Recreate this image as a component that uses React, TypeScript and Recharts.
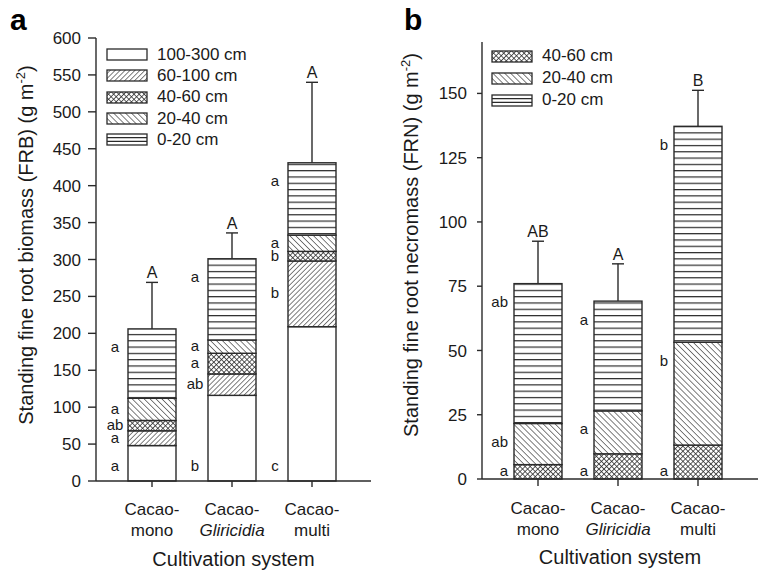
import React from 'react'
import { BarChart, Bar, XAxis, YAxis, Legend } from 'recharts'

const systems = ['Cacao-mono', 'Cacao-Gliricidia', 'Cacao-multi']
const tickTop = ['Cacao-', 'Cacao-', 'Cacao-']
const tickBottom = ['mono', 'Gliricidia', 'multi']

// panel a: standing fine root biomass per depth layer (g m-2)
const frb100to300 = [48, 116, 209]
const frb60to100 = [20, 29, 89]
const frb40to60 = [14, 28, 13]
const frb20to40 = [30, 18, 22]
const frb0to20 = [94, 110, 98]
const frbSe = [63, 35, 109]
const frbGroup = ['A', 'A', 'A']
const frbSig100to300 = ['a', 'b', 'c']
const frbSig60to100 = ['a', 'ab', 'b']
const frbSig40to60 = ['ab', 'a', 'b']
const frbSig20to40 = ['a', 'a', 'a']
const frbSig0to20 = ['a', 'a', 'a']
const frbTicks = [0, 50, 100, 150, 200, 250, 300, 350, 400, 450, 500, 550, 600]

// panel b: standing fine root necromass per depth layer (g m-2)
const frn40to60 = [5.6, 9.8, 13.2]
const frn20to40 = [16, 16.7, 40]
const frn0to20 = [54.4, 42.7, 84]
const frnSe = [16.5, 14.5, 14]
const frnGroup = ['AB', 'A', 'B']
const frnSig40to60 = ['a', 'a', 'a']
const frnSig20to40 = ['ab', 'a', 'b']
const frnSig0to20 = ['ab', 'a', 'b']
const frnTicks = [0, 25, 50, 75, 100, 125, 150]

const frbLegend = ['100-300 cm', '60-100 cm', '40-60 cm', '20-40 cm', '0-20 cm']
const frnLegend = ['40-60 cm', '20-40 cm', '0-20 cm']

const frbData = systems.map((s, i) => ({
  system: s,
  d100: frb100to300[i], d60: frb60to100[i], d40: frb40to60[i], d20: frb20to40[i], d0: frb0to20[i],
}))
const frnData = systems.map((s, i) => ({
  system: s, d40: frn40to60[i], d20: frn20to40[i], d0: frn0to20[i],
}))

const INK = '#2a2a2a'
const TXT = '#1a1a1a'
const FONT = '"Liberation Sans", Arial, Helvetica, sans-serif'

function Patterns({ id }: { id: string }) {
  return (
    <defs>
      <pattern id={`${id}-fwd`} patternUnits="userSpaceOnUse" width={3.5} height={10} patternTransform="rotate(45)">
        <rect width={3.5} height={10} fill="#fff" />
        <line x1={0} y1={0} x2={0} y2={10} stroke={INK} strokeWidth={1.2} />
      </pattern>
      <pattern id={`${id}-back`} patternUnits="userSpaceOnUse" width={4.2} height={10} patternTransform="rotate(-45)">
        <rect width={4.2} height={10} fill="#fff" />
        <line x1={0} y1={0} x2={0} y2={10} stroke={INK} strokeWidth={1.2} />
      </pattern>
      <pattern id={`${id}-cross`} patternUnits="userSpaceOnUse" width={3.6} height={3.6} patternTransform="rotate(45)">
        <rect width={3.6} height={3.6} fill="#fff" />
        <line x1={0} y1={0} x2={0} y2={3.6} stroke={INK} strokeWidth={1.5} />
        <line x1={0} y1={0} x2={3.6} y2={0} stroke={INK} strokeWidth={1.5} />
      </pattern>
      <pattern id={`${id}-horiz`} patternUnits="userSpaceOnUse" width={10} height={6.3}>
        <rect width={10} height={6.3} fill="#fff" />
        <line x1={0} y1={0.6} x2={10} y2={0.6} stroke={INK} strokeWidth={1.2} />
      </pattern>
    </defs>
  )
}

type Role = 'base' | 'mid' | 'top'

function segmentShape(
  fill: string, vals: number[], sig: string[], role: Role, panel: 'a' | 'b',
  se?: number[], group?: string[],
) {
  return (p: any) => {
    const { x, y, width, height, index } = p
    const cx = x + width / 2
    let ly = y + height / 2
    if (role === 'base') ly = y + height - (panel === 'a' ? 15 : 8)
    if (role === 'top') ly = Math.min(y + height / 2, y + 19)
    const lx = panel === 'a' ? x - 13 : x - 6
    const errPx = se ? (se[index] * height) / vals[index] : 0
    return (
      <g>
        <rect x={x} y={y} width={width} height={height} fill={fill} stroke={INK} strokeWidth={1.4} />
        {se && (
          <g stroke={INK} strokeWidth={1.4}>
            <line x1={cx} y1={y} x2={cx} y2={y - errPx} />
            <line x1={cx - 6} y1={y - errPx} x2={cx + 6} y2={y - errPx} />
          </g>
        )}
        {group && (
          <text x={cx} y={y - errPx - 4} textAnchor="middle" fontSize={16} fill={TXT} fontFamily={FONT}>
            {group[index]}
          </text>
        )}
        <text x={lx} y={ly} dy="0.3em" textAnchor={panel === 'a' ? 'middle' : 'end'}
          fontSize={15} fill={TXT} fontFamily={FONT}>
          {sig[index]}
        </text>
      </g>
    )
  }
}

const SystemTick = (p: any) => {
  const { x, y, payload } = p
  const i = systems.indexOf(payload.value)
  return (
    <g fontFamily={FONT} fontSize={17} fill={TXT}>
      <text x={x} y={y + 26} textAnchor="middle">{tickTop[i]}</text>
      <text x={x} y={y + 47} textAnchor="middle" fontStyle={i === 1 ? 'italic' : 'normal'}>{tickBottom[i]}</text>
    </g>
  )
}

const YTitle = ({ px, py, text }: any) => (
  <text x={px} y={py} transform={`rotate(-90 ${px} ${py})`} textAnchor="middle"
    fontFamily={FONT} fontSize={20} fill={TXT}>
    {text} (g m<tspan dy={-8} fontSize={13}>-2</tspan><tspan dy={8}>)</tspan>
  </text>
)

const XTitle = ({ viewBox }: any) => (
  <text x={viewBox.x + viewBox.width / 2} y={viewBox.y + 85} textAnchor="middle"
    fontFamily={FONT} fontSize={20} fill={TXT}>
    Cultivation system
  </text>
)

function legendContent(labels: string[], fills: string[], rowH: number) {
  return () => (
    <div style={{ fontFamily: FONT, fontSize: 17, color: TXT }}>
      {labels.map((l, i) => (
        <div key={l} style={{ display: 'flex', alignItems: 'center', height: rowH }}>
          <svg width={42} height={13} style={{ marginRight: 9 }}>
            <rect x={1} y={1} width={40} height={11} fill={fills[i] === 'horiz' ? '#fff' : fills[i]}
              stroke={INK} strokeWidth={1.3} />
            {fills[i] === 'horiz' && (
              <g stroke={INK} strokeWidth={1.2}>
                <line x1={1} y1={4.7} x2={41} y2={4.7} />
                <line x1={1} y1={8.4} x2={41} y2={8.4} />
              </g>
            )}
          </svg>
          <span>{l}</span>
        </div>
      ))}
    </div>
  )
}

const tickStyle = { fontSize: 17, fill: TXT, fontFamily: FONT }

export default function App() {
  return (
    <div style={{ position: 'absolute', left: 0, top: 0, width: 760, height: 573, background: '#fff' }}>
      <div style={{ position: 'absolute', left: 10, top: 3, lineHeight: '34px', fontFamily: FONT, fontWeight: 'bold', fontSize: 30, color: '#000' }}>a</div>
      <div style={{ position: 'absolute', left: 404, top: 3, lineHeight: '34px', fontFamily: FONT, fontWeight: 'bold', fontSize: 30, color: '#000' }}>b</div>

      <div style={{ position: 'absolute', left: 0, top: 0 }}>
        <BarChart width={380} height={573} data={frbData} barSize={48}
          margin={{ top: 38, right: 9, left: 36, bottom: 3 }}>
          <Patterns id="pa" />
          <XAxis dataKey="system" height={89} padding={{ left: 16, right: 19 }} tick={<SystemTick />}
            tickSize={6} stroke={INK} strokeWidth={1.4} interval={0} label={<XTitle />} />
          <XAxis xAxisId="top" dataKey="system" orientation="top" height={0} tick={false} tickLine={false}
            stroke={INK} strokeWidth={1.4} />
          <YAxis domain={[0, 600]} ticks={frbTicks} interval={0} width={60} tickSize={8} tickMargin={7}
            tick={tickStyle} stroke={INK} strokeWidth={1.4}
            label={<YTitle px={33} py={245} text="Standing fine root biomass (FRB)" />} />
          <YAxis yAxisId="right" orientation="right" domain={[0, 600]} width={0} tick={false} tickLine={false}
            stroke={INK} strokeWidth={1.4} />
          <Legend layout="vertical" align="center" verticalAlign="middle"
            wrapperStyle={{ left: 106, top: 44, width: 200, height: 110 }}
            content={legendContent(frbLegend, ['#fff', 'url(#pa-fwd)', 'url(#pa-cross)', 'url(#pa-back)', 'horiz'], 21.3)} />
          <Bar dataKey="d100" stackId="s" isAnimationActive={false}
            shape={segmentShape('#fff', frb100to300, frbSig100to300, 'base', 'a')} />
          <Bar dataKey="d60" stackId="s" isAnimationActive={false}
            shape={segmentShape('url(#pa-fwd)', frb60to100, frbSig60to100, 'mid', 'a')} />
          <Bar dataKey="d40" stackId="s" isAnimationActive={false}
            shape={segmentShape('url(#pa-cross)', frb40to60, frbSig40to60, 'mid', 'a')} />
          <Bar dataKey="d20" stackId="s" isAnimationActive={false}
            shape={segmentShape('url(#pa-back)', frb20to40, frbSig20to40, 'mid', 'a')} />
          <Bar dataKey="d0" stackId="s" isAnimationActive={false}
            shape={segmentShape('url(#pa-horiz)', frb0to20, frbSig0to20, 'top', 'a', frbSe, frbGroup)} />
        </BarChart>
      </div>

      <div style={{ position: 'absolute', left: 380, top: 0 }}>
        <BarChart width={380} height={573} data={frnData} barSize={48}
          margin={{ top: 42, right: 2, left: 42, bottom: 5 }}>
          <Patterns id="pb" />
          <XAxis dataKey="system" height={89} padding={{ left: 16, right: 20 }} tick={<SystemTick />}
            tickSize={7} stroke={INK} strokeWidth={1.4} interval={0} label={<XTitle />} />
          <XAxis xAxisId="top" dataKey="system" orientation="top" height={0} tick={false} tickLine={false}
            stroke={INK} strokeWidth={1.4} />
          <YAxis domain={[0, 170]} ticks={frnTicks} interval={0} width={60} tickSize={5} tickMargin={10}
            tick={tickStyle} stroke={INK} strokeWidth={1.4}
            label={<YTitle px={38} py={245} text="Standing fine root necromass (FRN)" />} />
          <YAxis yAxisId="right" orientation="right" domain={[0, 170]} width={0} tick={false} tickLine={false}
            stroke={INK} strokeWidth={1.4} />
          <Legend layout="vertical" align="center" verticalAlign="middle"
            wrapperStyle={{ left: 111, top: 45, width: 200, height: 70 }}
            content={legendContent(frnLegend, ['url(#pb-cross)', 'url(#pb-back)', 'horiz'], 22)} />
          <Bar dataKey="d40" stackId="s" isAnimationActive={false}
            shape={segmentShape('url(#pb-cross)', frn40to60, frnSig40to60, 'base', 'b')} />
          <Bar dataKey="d20" stackId="s" isAnimationActive={false}
            shape={segmentShape('url(#pb-back)', frn20to40, frnSig20to40, 'top', 'b')} />
          <Bar dataKey="d0" stackId="s" isAnimationActive={false}
            shape={segmentShape('url(#pb-horiz)', frn0to20, frnSig0to20, 'top', 'b', frnSe, frnGroup)} />
        </BarChart>
      </div>
    </div>
  )
}
